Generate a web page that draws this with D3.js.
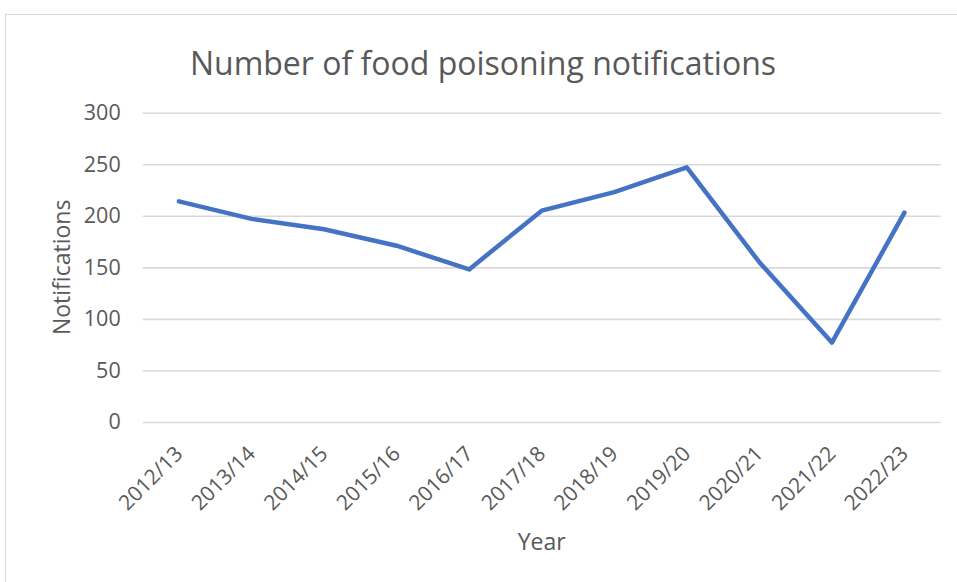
<!DOCTYPE html>
<html>
<head>
<meta charset="utf-8">
<script src="https://cdn.jsdelivr.net/npm/d3@7"></script>
<style>
  html, body { margin: 0; padding: 0; background: #fff; }
  svg { display: block; font-family: "Open Sans", "Noto Sans", sans-serif; }
</style>
</head>
<body>
<svg id="chart" width="957" height="582"></svg>
<script>
// Financial years and yearly food poisoning notification counts
const years = ["2012/13", "2013/14", "2014/15", "2015/16", "2016/17", "2017/18",
               "2018/19", "2019/20", "2020/21", "2021/22", "2022/23"];
const notifications = [214, 197, 187, 171, 148, 205, 223, 247, 155, 77, 203];
const yTicks = [0, 50, 100, 150, 200, 250, 300];

const chartTitle = "Number of food poisoning notifications";
const xTitle = "Year";
const yTitle = "Notifications";

const textColor = "#595959";
const gridColor = "#D9D9D9";
const lineColor = "#4472C4";

const svg = d3.select("#chart");

// Outer chart frame
svg.append("rect")
  .attr("x", 5.5).attr("y", 14.5)
  .attr("width", 960).attr("height", 580)
  .attr("fill", "none").attr("stroke", gridColor).attr("stroke-width", 1);

const plot = { left: 142.7, right: 940.7, top: 112.7, bottom: 422 };

const x = d3.scaleBand().domain(years).range([plot.left, plot.right]).padding(0);
const y = d3.scaleLinear().domain([0, 300]).range([plot.bottom, plot.top]);

// Horizontal gridlines
svg.append("g")
  .attr("transform", `translate(${plot.left},0)`)
  .call(d3.axisLeft(y).tickValues(yTicks).tickSize(-(plot.right - plot.left)).tickFormat(""))
  .call(g => g.select(".domain").remove())
  .call(g => g.selectAll("line").attr("stroke", gridColor).attr("stroke-width", 1.6));

// Y tick labels
svg.append("g")
  .attr("transform", `translate(${plot.left - 22},0)`)
  .call(d3.axisLeft(y).tickValues(yTicks).tickSize(0).tickPadding(0))
  .call(g => g.select(".domain").remove())
  .call(g => g.selectAll("text")
    .attr("fill", textColor)
    .attr("font-size", 21.5)
    .attr("font-family", "Open Sans, sans-serif"));

// X tick labels, rotated
svg.append("g")
  .attr("transform", `translate(0,${plot.bottom})`)
  .call(d3.axisBottom(x).tickSize(0).tickPadding(0))
  .call(g => g.select(".domain").remove())
  .call(g => g.selectAll("text")
    .attr("fill", textColor)
    .attr("font-size", 21)
    .attr("font-family", "Open Sans, sans-serif")
    .attr("text-anchor", "end")
    .attr("dy", null)
    .attr("y", 0)
    .attr("transform", "translate(5,33) rotate(-45)"));

// Series line
const line = d3.line()
  .x((d, i) => x(years[i]) + x.bandwidth() / 2)
  .y(d => y(d));

svg.append("path")
  .datum(notifications)
  .attr("d", line)
  .attr("fill", "none")
  .attr("stroke", lineColor)
  .attr("stroke-width", 4.5)
  .attr("stroke-linejoin", "round")
  .attr("stroke-linecap", "round");

// Titles
svg.append("text")
  .attr("x", 483).attr("y", 75)
  .attr("text-anchor", "middle")
  .attr("fill", textColor)
  .attr("font-size", 32)
  .text(chartTitle);

svg.append("text")
  .attr("x", (plot.left + plot.right) / 2).attr("y", 550)
  .attr("text-anchor", "middle")
  .attr("fill", textColor)
  .attr("font-size", 23)
  .text(xTitle);

svg.append("text")
  .attr("transform", `translate(69.5,${(plot.top + plot.bottom) / 2}) rotate(-90)`)
  .attr("text-anchor", "middle")
  .attr("fill", textColor)
  .attr("font-size", 23)
  .text(yTitle);
</script>
</body>
</html>
